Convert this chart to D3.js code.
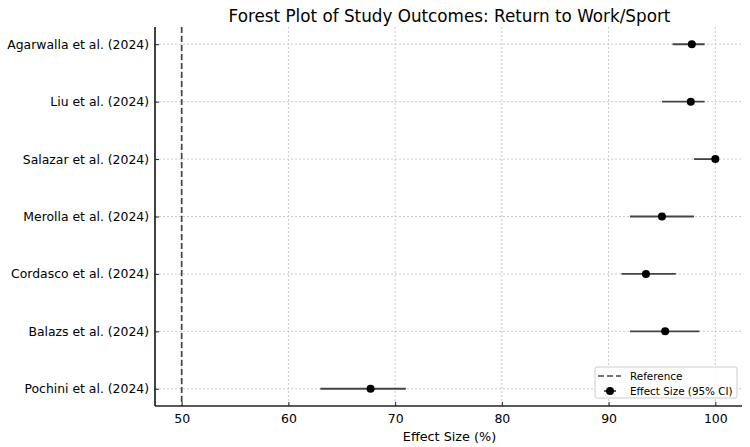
<!DOCTYPE html>
<html>
<head>
<meta charset="utf-8">
<script src="https://cdn.jsdelivr.net/npm/d3@7"></script>
<style>
  body { margin: 0; background: #fff; }
  text { font-family: "DejaVu Sans", sans-serif; fill: #000; }
  .grid line { stroke: #bdbdbd; stroke-dasharray: 2,2; stroke-width: 0.8; }
</style>
</head>
<body>
<div id="chart"></div>
<script>
// Data
var studies  = ["Agarwalla et al. (2024)", "Liu et al. (2024)", "Salazar et al. (2024)",
                "Merolla et al. (2024)", "Cordasco et al. (2024)", "Balazs et al. (2024)",
                "Pochini et al. (2024)"];
var effect   = [97.8, 97.7, 100, 95.0, 93.5, 95.3, 67.7];
var ciLower  = [96.0, 95.0, 98.0, 92.0, 91.2, 92.0, 63.0];
var ciUpper  = [99.0, 99.0, 100, 98.0, 96.3, 98.5, 71.0];
var refValue = 50;
var xTicks   = [50, 60, 70, 80, 90, 100];

var W = 750, H = 447;
var margin = { top: 27, right: 8, bottom: 41, left: 155 };
var width  = W - margin.left - margin.right,
    height = H - margin.top - margin.bottom;

var svg = d3.select("#chart").append("svg")
    .attr("width", W).attr("height", H);

var g = svg.append("g")
    .attr("transform", "translate(" + margin.left + "," + margin.top + ")");

var x = d3.scaleLinear().domain([47.5, 102.5]).range([0, width]);
var y = d3.scaleLinear().domain([-0.3, studies.length - 1 + 0.3]).range([0, height]);

// Grid
var grid = g.append("g").attr("class", "grid");
grid.selectAll("line.v").data(xTicks).enter().append("line")
  .attr("class", "v")
  .attr("x1", function(d) { return x(d); }).attr("x2", function(d) { return x(d); })
  .attr("y1", 0).attr("y2", height);
grid.selectAll("line.h").data(studies).enter().append("line")
  .attr("class", "h")
  .attr("x1", 0).attr("x2", width)
  .attr("y1", function(d, i) { return y(i); }).attr("y2", function(d, i) { return y(i); });

// Reference line
g.append("line")
  .attr("x1", x(refValue)).attr("x2", x(refValue))
  .attr("y1", 0).attr("y2", height)
  .attr("stroke", "#444").attr("stroke-width", 1.7)
  .attr("stroke-dasharray", "6,3");

// Error bars and points
var rows = g.selectAll("g.row").data(studies).enter().append("g").attr("class", "row");
rows.append("line")
  .attr("x1", function(d, i) { return x(ciLower[i]); })
  .attr("x2", function(d, i) { return x(ciUpper[i]); })
  .attr("y1", function(d, i) { return y(i); })
  .attr("y2", function(d, i) { return y(i); })
  .attr("stroke", "#444").attr("stroke-width", 1.8);
rows.append("circle")
  .attr("cx", function(d, i) { return x(effect[i]); })
  .attr("cy", function(d, i) { return y(i); })
  .attr("r", 4).attr("fill", "#000");

// Axes
var xAxis = d3.axisBottom(x).tickValues(xTicks).tickSize(-4).tickPadding(8).tickFormat(d3.format("d"));
var gx = g.append("g").attr("transform", "translate(0," + height + ")").call(xAxis);
gx.select(".domain").attr("stroke", "#222").attr("stroke-width", 1.7).attr("d", "M0,0H" + width);
gx.selectAll(".tick line").attr("stroke", "#222");
gx.selectAll("text").style("font-size", "12.5px");

var yAxis = d3.axisLeft(y).tickValues(d3.range(studies.length))
  .tickFormat(function(i) { return studies[i]; }).tickSize(-4).tickPadding(6);
var gy = g.append("g").call(yAxis);
gy.select(".domain").attr("stroke", "#222").attr("stroke-width", 1.7).attr("d", "M0,0V" + height);
gy.selectAll(".tick line").attr("stroke", "#222");
gy.selectAll("text").style("font-size", "12.4px");

// Title and label
svg.append("text")
  .attr("x", margin.left + width / 2 + 1).attr("y", 22)
  .attr("text-anchor", "middle").style("font-size", "16.8px")
  .text("Forest Plot of Study Outcomes: Return to Work/Sport");
svg.append("text")
  .attr("x", margin.left + width / 2 + 1).attr("y", H - 6)
  .attr("text-anchor", "middle").style("font-size", "12.8px")
  .text("Effect Size (%)");

// Legend
var lg = g.append("g").attr("transform", "translate(" + (width - 147) + "," + (height - 39) + ")");
lg.append("rect").attr("width", 142).attr("height", 31).attr("rx", 2)
  .attr("fill", "#fff").attr("fill-opacity", 0.85)
  .attr("stroke", "#ccc");
lg.append("line").attr("x1", 3).attr("x2", 26).attr("y1", 9).attr("y2", 9)
  .attr("stroke", "#444").attr("stroke-width", 1.6).attr("stroke-dasharray", "6,3");
lg.append("text").attr("x", 35).attr("y", 12.5).style("font-size", "10.4px").text("Reference");
lg.append("line").attr("x1", 9).attr("x2", 21).attr("y1", 24).attr("y2", 24)
  .attr("stroke", "#444").attr("stroke-width", 1.8);
lg.append("circle").attr("cx", 15).attr("cy", 24).attr("r", 4).attr("fill", "#000");
lg.append("text").attr("x", 35).attr("y", 27.5).style("font-size", "10.4px").text("Effect Size (95% CI)");
</script>
</body>
</html>
